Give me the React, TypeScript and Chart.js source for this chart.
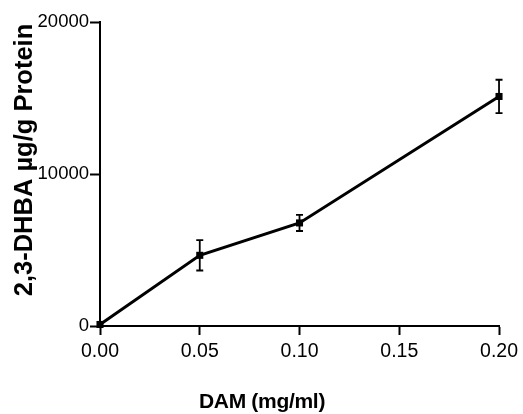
import React, { useEffect, useRef } from "react";
import { Chart, registerables } from "chart.js";

Chart.register(...registerables);

const doses = [0, 0.05, 0.1, 0.2];
const means = [100, 4650, 6780, 15100];
const errors = [0, 1000, 530, 1100];
const xTicks = [0, 0.05, 0.1, 0.15, 0.2];
const yTicks = [0, 10000, 20000];
const xTitle = "DAM (mg/ml)";
const yTitle = "2,3-DHBA µg/g Protein";

const FONT = "'Liberation Sans', Arial, sans-serif";

const errorBarPlugin = {
  id: "errorBars",
  afterDatasetsDraw(chart: any) {
    const ctx = chart.ctx;
    const xs = chart.scales.x;
    const ys = chart.scales.y;
    ctx.save();
    ctx.strokeStyle = "#000";
    ctx.lineWidth = 1.8;
    doses.forEach((d, i) => {
      const e = errors[i];
      if (!e) return;
      const px = xs.getPixelForValue(d);
      const top = ys.getPixelForValue(means[i] + e);
      const bot = ys.getPixelForValue(means[i] - e);
      ctx.beginPath();
      ctx.moveTo(px, top);
      ctx.lineTo(px, bot);
      ctx.moveTo(px - 3.5, top);
      ctx.lineTo(px + 3.5, top);
      ctx.moveTo(px - 3.5, bot);
      ctx.lineTo(px + 3.5, bot);
      ctx.stroke();
    });
    ctx.restore();
  },
};

const titlesPlugin = {
  id: "axisTitles",
  afterDraw(chart: any) {
    const ctx = chart.ctx;
    const area = chart.chartArea;
    ctx.save();
    ctx.fillStyle = "#000";
    ctx.textAlign = "center";
    ctx.textBaseline = "alphabetic";
    // x title
    ctx.font = `bold 21px ${FONT}`;
    try { (ctx as any).letterSpacing = "-0.3px"; } catch (e) {}
    ctx.fillText(xTitle, area.left + 162, area.bottom + 82);
    try { (ctx as any).letterSpacing = "0px"; } catch (e) {}
    // y title
    ctx.font = `bold 25.5px ${FONT}`;
    ctx.translate(32, area.top + 138);
    ctx.rotate(-Math.PI / 2);
    ctx.fillText(yTitle, 0, 0);
    ctx.restore();
  },
};

export default function App() {
  const ref = useRef<HTMLCanvasElement | null>(null);
  useEffect(() => {
    document.body.style.margin = "0";
    const canvas = ref.current!;
    const chart = new Chart(canvas, {
      type: "line",
      data: {
        datasets: [
          {
            data: doses.map((d, i) => ({ x: d, y: means[i] })),
            borderColor: "#000",
            backgroundColor: "#000",
            borderWidth: 3,
            pointStyle: "rect",
            pointRadius: 5,
            pointBorderWidth: 0,
            pointBackgroundColor: "#000",
            tension: 0,
            clip: false as any,
          },
        ],
      },
      options: {
        animation: false,
        responsive: false,
        events: [],
        layout: { padding: { left: 0, top: 22, right: 22, bottom: 0 } },
        plugins: { legend: { display: false }, tooltip: { enabled: false } },
        scales: {
          x: {
            type: "linear",
            min: 0,
            max: 0.2,
            afterFit(scale: any) {
              scale.height = 88;
            },
            afterBuildTicks(scale: any) {
              scale.ticks = xTicks.map((v) => ({ value: v }));
            },
            ticks: {
              color: "#000",
              font: { family: FONT, size: 19.5 },
              padding: 5,
              maxRotation: 0,
              callback: (v: any) => Number(v).toFixed(2),
            },
            grid: {
              drawOnChartArea: false,
              drawTicks: true,
              tickLength: 9,
              tickWidth: 2,
              tickColor: "#000",
            },
            border: { color: "#000", width: 2 },
          },
          y: {
            type: "linear",
            min: 0,
            max: 20000,
            afterFit(scale: any) {
              scale.width = 100;
            },
            afterBuildTicks(scale: any) {
              scale.ticks = yTicks.map((v) => ({ value: v }));
            },
            ticks: {
              color: "#000",
              font: { family: FONT, size: 18.5 },
              padding: 1,
              callback: (v: any) => String(v),
            },
            grid: {
              drawOnChartArea: false,
              drawTicks: true,
              tickLength: 10,
              tickWidth: 2,
              tickColor: "#000",
            },
            border: { color: "#000", width: 2 },
          },
        },
      },
      plugins: [errorBarPlugin, titlesPlugin],
    });
    return () => chart.destroy();
  }, []);
  return <canvas ref={ref} width={523} height={414} style={{ display: "block" }} />;
}
